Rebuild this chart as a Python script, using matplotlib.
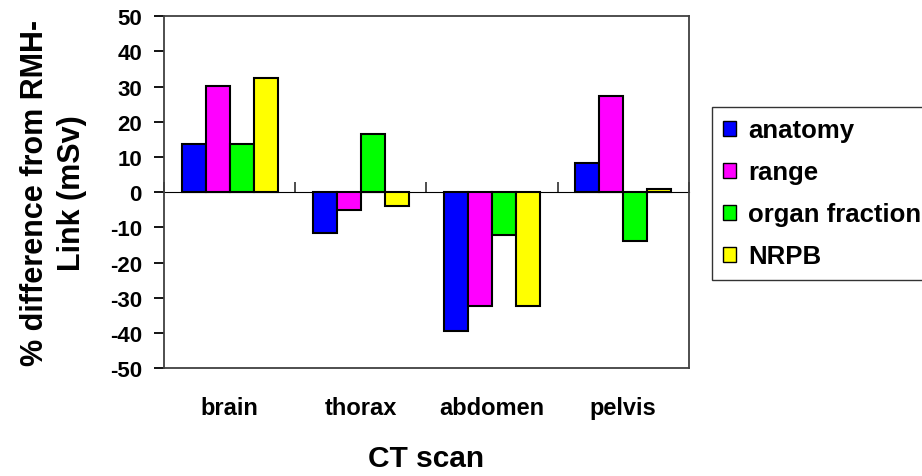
import numpy as np
import matplotlib.pyplot as plt

plt.rcParams['font.family'] = ['Liberation Sans', 'DejaVu Sans']
plt.rcParams['font.weight'] = 'bold'
plt.rcParams['axes.unicode_minus'] = False

scans = ['brain', 'thorax', 'abdomen', 'pelvis']
anatomy = [13.7, -11.6, -39.4, 8.2]
rng = [30.3, -5.2, -32.3, 27.4]
organ_fraction = [13.7, 16.5, -12.1, -13.8]
nrpb = [32.5, -3.8, -32.3, 0.9]

series = [('anatomy', anatomy, '#0000FF'),
          ('range', rng, '#FF00FF'),
          ('organ fraction', organ_fraction, '#00FF00'),
          ('NRPB', nrpb, '#FFFF00')]

fig = plt.figure(figsize=(9.22, 4.77), dpi=100)
ax = fig.add_axes([0.178, 0.226, 0.569, 0.738])

x = np.arange(len(scans))
w = 0.183
for i, (name, vals, col) in enumerate(series):
    ax.bar(x + (i - 1.5) * w, vals, w, color=col, edgecolor='black',
           linewidth=1.5, label=name, zorder=3)

ax.set_xlim(-0.5, len(scans) - 0.5)
ax.set_ylim(-50, 50)
ax.set_yticks(np.arange(-50, 51, 10))
ax.tick_params(axis='y', direction='out', length=7, width=1.3,
               labelsize=16, pad=9)
ax.set_xticks(x)
ax.set_xticklabels(scans, fontsize=17, fontweight='bold')
ax.tick_params(axis='x', length=0, pad=20)

for s in ax.spines.values():
    s.set_color('#404040')
    s.set_linewidth(1.3)

# category axis crossing at zero
sec = ax.secondary_xaxis(0.5)
sec.set_xticks(np.arange(-0.5, len(scans), 1.0))
sec.set_xticklabels([])
sec.tick_params(direction='out', length=7, width=1.3, color='#404040')
sec.spines['bottom'].set_color('#404040')
sec.spines['bottom'].set_linewidth(1.3)

ax.set_xlabel('CT scan', fontsize=21.5, fontweight='bold', labelpad=18)
ax.set_ylabel('% difference from RMH-\nLink (mSv)', fontsize=22,
              fontweight='bold', linespacing=1.3)
ax.yaxis.set_label_coords(-0.147, 0.5)

leg = fig.legend(loc='upper left', bbox_to_anchor=(0.772, 0.774),
                 frameon=True, fancybox=False, edgecolor='black',
                 prop={'size': 18.5, 'weight': 'bold'},
                 handlelength=0.5, handleheight=0.5, handletextpad=0.45,
                 labelspacing=0.7, borderpad=0.45, borderaxespad=0)
leg.get_frame().set_linewidth(1.0)
for h in leg.legend_handles:
    h.set_linewidth(1.0)

fig.savefig('out.png', dpi=100)
